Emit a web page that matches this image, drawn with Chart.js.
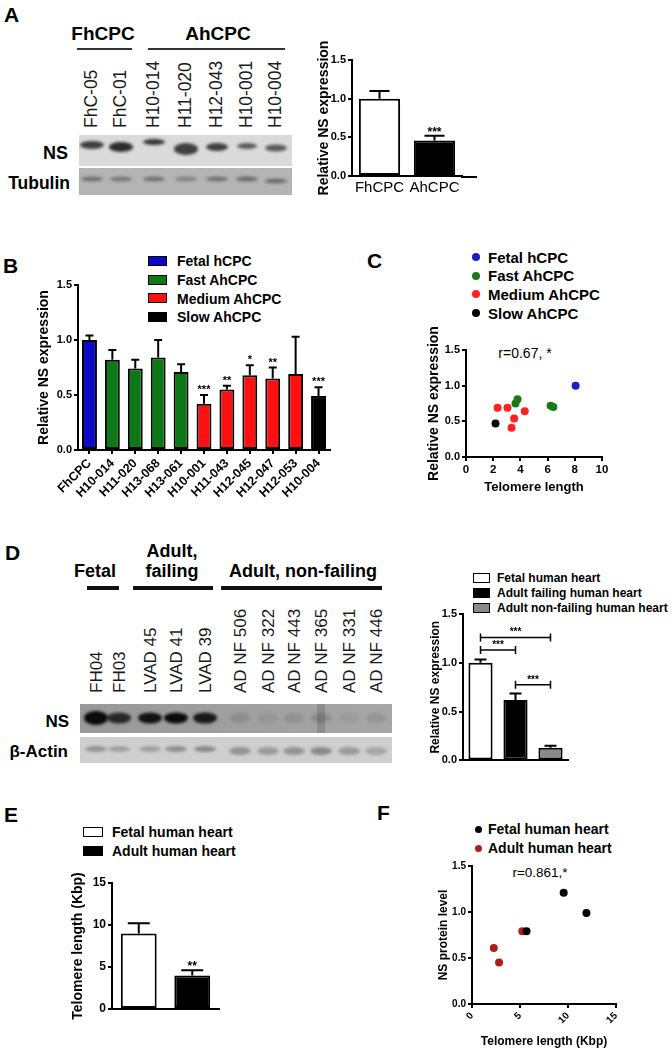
<!DOCTYPE html>
<html><head><meta charset="utf-8">
<script src="https://cdn.jsdelivr.net/npm/chart.js@4.4.1/dist/chart.umd.min.js"></script>
<style>
html,body{margin:0;padding:0;background:#fff;}
body{width:672px;height:1050px;position:relative;overflow:hidden;font-family:"Liberation Sans",Arial,Helvetica,sans-serif;color:#000;}
.t{position:absolute;white-space:nowrap;}
</style></head><body>
<script>
// ================= DATA =================
// Panel A
const A_lanes=['FhC-05','FhC-01','H10-014','H11-020','H12-043','H10-001','H10-004'];
const A_nsBand=[0.85,0.95,0.9,0.85,0.85,0.7,0.7];
const A_tubBand=[0.55,0.5,0.55,0.4,0.55,0.6,0.6];
const A_groups=['FhCPC','AhCPC'];
const A_values=[1.00,0.46];
const A_errors=[0.10,0.06];
const A_sig=['','***'];
// Panel B
const B_lines=['FhCPC','H10-014','H11-020','H13-068','H13-061','H10-001','H11-043','H12-045','H12-047','H12-053','H10-004'];
const B_values=[1.00,0.82,0.74,0.84,0.71,0.42,0.55,0.68,0.65,0.69,0.49];
const B_errors=[0.04,0.09,0.08,0.16,0.07,0.08,0.035,0.09,0.10,0.34,0.08];
const B_rate=[0,1,1,1,1,2,2,2,2,2,3];
const B_sig=['','','','','','***','**','*','**','','***'];
const rateGroups=['Fetal hCPC','Fast AhCPC','Medium AhCPC','Slow AhCPC'];
// Panel C
const C_fetal=[{x:8.06,y:1.00}];
const C_fast=[{x:3.79,y:0.81},{x:3.64,y:0.75},{x:6.22,y:0.72},{x:6.42,y:0.70}];
const C_medium=[{x:2.32,y:0.69},{x:3.05,y:0.69},{x:3.54,y:0.54},{x:3.35,y:0.41},{x:4.32,y:0.64}];
const C_slow=[{x:2.17,y:0.47}];
const C_r='r=0.67, *';
// Panel D
const D_lanes=['FH04','FH03','LVAD 45','LVAD 41','LVAD 39','AD NF 506','AD NF 322','AD NF 443','AD NF 365','AD NF 331','AD NF 446'];
const D_nsBand=[1.0,0.8,0.95,1.0,0.9,0.12,0.07,0.1,0.16,0.06,0.1];
const D_actBand=[0.5,0.4,0.4,0.55,0.6,0.5,0.45,0.5,0.6,0.45,0.35];
const D_groups=['Fetal human heart','Adult failing human heart','Adult non-failing human heart'];
const D_values=[1.00,0.62,0.13];
const D_errors=[0.035,0.065,0.02];
const D_pairs=[[0,2,1.26,'***'],[0,1,1.13,'***'],[1,2,0.775,'***']];
// Panel E
const E_groups=['Fetal human heart','Adult human heart'];
const E_values=[9.0,4.0];
const E_errors=[1.2,0.6];
const E_sig=['','**'];
// Panel F
const F_fetal=[{x:5.68,y:0.79},{x:9.55,y:1.21},{x:11.92,y:0.99}];
const F_adult=[{x:5.24,y:0.79},{x:2.27,y:0.61},{x:2.82,y:0.45}];
const F_r='r=0.861,*';

// ================= HELPERS =================
const FONT='"Liberation Sans", Arial, Helvetica, sans-serif';
Chart.defaults.font.family=FONT;
Chart.defaults.color='#000';
Chart.defaults.animation=false;

function makeCanvas(x,y,w,h){const c=document.createElement('canvas');c.width=w;c.height=h;
  c.style.cssText=`position:absolute;left:${x}px;top:${y}px;width:${w}px;height:${h}px`;document.body.appendChild(c);return c;}
function txt(s,x,base,size,opt={}){
  const d=document.createElement('div');d.className='t';d.textContent=s;
  d.style.fontSize=size+'px';d.style.lineHeight=size+'px';d.style.fontWeight=opt.w||'bold';
  d.style.top=(base-0.85*size)+'px';
  if(opt.align==='center'){d.style.left=x+'px';d.style.transform='translateX(-50%)';}
  else if(opt.align==='right'){d.style.right=(672-x)+'px';}
  else d.style.left=x+'px';
  if(opt.color)d.style.color=opt.color;
  document.body.appendChild(d);return d;}
function vtxt(s,cx,bottom,size,opt={}){
  const d=document.createElement('div');d.className='t';d.textContent=s;
  d.style.fontSize=size+'px';d.style.lineHeight=size+'px';d.style.fontWeight=opt.w||'normal';
  d.style.left=(cx-0.49*size)+'px';d.style.top=bottom+'px';
  d.style.transformOrigin='0 0';d.style.transform='rotate(-90deg)';d.style.color=opt.color||'#1a1a1a';
  document.body.appendChild(d);return d;}
function rect(x,y,w,h,bg,border){const d=document.createElement('div');
  d.style.cssText=`position:absolute;left:${x}px;top:${y}px;width:${w}px;height:${h}px;background:${bg};box-sizing:border-box;${border?'border:'+border+';':''}`;
  document.body.appendChild(d);return d;}
function dot(cx,cy,r,col){const d=rect(cx-r,cy-r,2*r,2*r,col);d.style.borderRadius='50%';return d;}
function blot(x,y,w,h,draw){const c=makeCanvas(x,y,w,h);const ctx=c.getContext('2d');draw(ctx,w,h);}
function band(ctx,cx,cy,w,h,col){ctx.fillStyle=col;ctx.beginPath();ctx.ellipse(cx,cy,w/2,h/2,0,0,Math.PI*2);ctx.fill();}

function yAx(o){return{type:'linear',min:o.min,max:o.max,
  ticks:{stepSize:o.step,font:{size:o.tick,weight:'bold'},color:'#000',padding:2,callback:v=>Number(v).toFixed(o.dec)},
  grid:{drawOnChartArea:false,drawTicks:true,tickLength:4,color:'#000',lineWidth:2},
  border:{color:'#000',width:2},
  title:{display:true,text:o.title,font:{size:o.titleSize,weight:'bold'},color:'#000',padding:0},
  afterFit:s=>{s.width=o.width;}};}
function xCat(o){return{type:'category',offset:true,
  grid:{display:!!o.ticks,offset:false,drawOnChartArea:false,drawTicks:!!o.ticks,tickLength:4,color:'#000',lineWidth:2},
  border:{color:'#000',width:2},
  ticks:{display:o.labels!==false,font:{size:o.font||12,weight:o.weight||'bold'},color:'#000',padding:o.pad||2,autoSkip:false,maxRotation:o.rot||0,minRotation:o.rot||0},
  afterFit:s=>{s.height=o.height;}};}
function xLin(o){return{type:'linear',min:o.min,max:o.max,
  ticks:{stepSize:o.step,font:{size:o.tick,weight:'bold'},color:'#000',padding:o.pad||2,maxRotation:o.rot||0,minRotation:o.rot||0,autoSkip:false},
  grid:{drawOnChartArea:false,drawTicks:true,tickLength:4,color:'#000',lineWidth:2},
  border:{color:'#000',width:2},
  title:{display:true,text:o.title,font:{size:o.titleSize,weight:'bold'},color:'#000',padding:0},
  afterFit:s=>{s.height=o.height;}};}
function errPlugin(o){return{id:'eb',afterDatasetsDraw(chart){
  const ctx=chart.ctx,ys=chart.scales.y,meta=chart.getDatasetMeta(0),vals=chart.data.datasets[0].data;
  ctx.save();ctx.strokeStyle='#000';ctx.lineWidth=2;ctx.fillStyle='#000';
  meta.data.forEach((bar,i)=>{const e=o.errors[i];
    const y0=ys.getPixelForValue(vals[i]),y1=ys.getPixelForValue(vals[i]+e);
    ctx.beginPath();ctx.moveTo(bar.x,y0);ctx.lineTo(bar.x,y1);ctx.moveTo(bar.x-o.cap/2,y1);ctx.lineTo(bar.x+o.cap/2,y1);ctx.stroke();
    if(o.stars&&o.stars[i]){ctx.font=`bold ${o.starFont}px ${FONT}`;ctx.textAlign='center';ctx.textBaseline='alphabetic';ctx.fillText(o.stars[i],bar.x,y1-o.starGap);}
  });
  if(o.extendX){const a=chart.chartArea;ctx.beginPath();ctx.moveTo(a.right-1,a.bottom+1);ctx.lineTo(a.right+o.extendX,a.bottom+1);ctx.stroke();}
  if(o.pairs){const meta0=meta.data;ctx.lineWidth=1.5;
    o.pairs.forEach(p=>{const xa=meta0[p[0]].x,xb=meta0[p[1]].x,y=ys.getPixelForValue(p[2]);
      ctx.beginPath();ctx.moveTo(xa,y);ctx.lineTo(xb,y);ctx.moveTo(xa,y-4);ctx.lineTo(xa,y+4);ctx.moveTo(xb,y-4);ctx.lineTo(xb,y+4);ctx.stroke();
      ctx.font=`bold 10px ${FONT}`;ctx.textAlign='center';ctx.fillText(p[3],(xa+xb)/2,y-2);});}
  ctx.restore();}};}
const baseOpts=(pad)=>({responsive:false,devicePixelRatio:1,animation:false,layout:{padding:pad},
  plugins:{legend:{display:false},tooltip:{enabled:false}}});

// ================= PANEL A =================
txt('A',4,22,21);
txt('FhCPC',103,40,19,{align:'center'});
txt('AhCPC',218,40,19,{align:'center'});
rect(77,48,55,1.5,'#333');rect(148,48,137,1.5,'#333');
const A_laneX=[92,121,154,186,217,247,276];
A_lanes.forEach((l,i)=>vtxt(l,A_laneX[i],128,17.5));
blot(79,135,213,31,(ctx,w,h)=>{ctx.fillStyle='#dadada';ctx.fillRect(0,0,w,h);
  const by=[10,12,7,14,12,11,13],bw=[24,24,22,24,22,20,22],bh=[8,10,6,12,8,6,7];
  ctx.filter='blur(1.5px)';
  A_nsBand.forEach((a,i)=>band(ctx,A_laneX[i]-79,by[i],bw[i],bh[i],`rgba(35,35,35,${a})`));});
blot(79,168,213,27,(ctx,w,h)=>{ctx.fillStyle='#b4b4b4';ctx.fillRect(0,0,w,h);
  ctx.filter='blur(1.5px)';
  A_tubBand.forEach((a,i)=>band(ctx,A_laneX[i]-79,i===6?13:11,22,5,`rgba(60,60,60,${a})`));});
txt('NS',68,159,18,{align:'right'});
txt('Tubulin',70,190,17.5,{align:'right'});

new Chart(makeCanvas(316,28,174,173),{type:'bar',
  data:{labels:A_groups,datasets:[{data:A_values,backgroundColor:['#fff','#000'],borderColor:'#000',borderWidth:2,borderSkipped:false,barPercentage:0.75,categoryPercentage:1}]},
  options:Object.assign(baseOpts({top:32,right:28,left:0,bottom:0}),{scales:{
    x:xCat({font:15,weight:'normal',height:25,pad:3}),
    y:yAx({min:0,max:1.5,step:0.5,dec:1,tick:11,title:'Relative NS expression',titleSize:14,width:36})}}),
  plugins:[errPlugin({errors:A_errors,cap:20,stars:A_sig,starFont:12,starGap:0,extendX:15})]});

// ================= PANEL B =================
txt('B',3,273,21);
const rateColors=['#0a0ac8','#0b7a16','#ff1010','#000000'];
rateGroups.forEach((g,i)=>{const cy=261+i*18.7;rect(148,cy-5,19,10,rateColors[i],'1.5px solid #000');txt(g,177,cy+5,14);});
new Chart(makeCanvas(36,270,309,245),{type:'bar',
  data:{labels:B_lines,datasets:[{data:B_values,backgroundColor:B_rate.map(r=>rateColors[r]),borderColor:'#000',borderWidth:2,borderSkipped:false,barPercentage:0.65,categoryPercentage:1}]},
  options:Object.assign(baseOpts({top:15,right:15,left:0,bottom:0}),{scales:{
    x:xCat({ticks:true,font:12.5,rot:45,height:65,pad:2}),
    y:yAx({min:0,max:1.5,step:0.5,dec:1,tick:11,title:'Relative NS expression',titleSize:14,width:42})}}),
  plugins:[errPlugin({errors:B_errors,cap:8,stars:B_sig,starFont:11,starGap:2})]});

// ================= PANEL C =================
txt('C',367,268,21);
const dotColors=['#1c1cc8','#1a7a1a','#ff2020','#000000'];
rateGroups.forEach((g,i)=>{const cy=257+i*18.7;dot(476,cy,4,dotColors[i]);txt(g,488,cy+5.4,15);});
txt(C_r,525,358,14,{align:'center',w:'normal'});
new Chart(makeCanvas(426,318,192,177),{type:'scatter',
  data:{datasets:[C_fetal,C_fast,C_medium,C_slow].map((d,i)=>({data:d,pointRadius:4,pointBackgroundColor:dotColors[i],pointBorderWidth:0,showLine:false}))},
  options:Object.assign(baseOpts({top:32,right:16,left:0,bottom:0}),{scales:{
    x:xLin({min:0,max:10,step:2,tick:11.5,title:'Telomere length',titleSize:13,height:38,pad:2}),
    y:yAx({min:0,max:1.5,step:0.5,dec:1,tick:11,title:'Relative NS expression',titleSize:14,width:40})}})});

// ================= PANEL D =================
txt('D',5,560,21);
txt('Fetal',95,577,18,{align:'center'});
txt('Adult,',172,557,18,{align:'center'});
txt('failing',172,577,18,{align:'center'});
txt('Adult, non-failing',303,577,18,{align:'center'});
rect(87,586,32,4,'#111');rect(133,586,80,4,'#111');rect(221,586,161,4,'#111');
const D_laneX=[96,119,150,176,205,240,268,294,321,349,376];
D_lanes.forEach((l,i)=>vtxt(l,D_laneX[i],693,17));
blot(80,704,312,29,(ctx,w,h)=>{const g=ctx.createLinearGradient(0,0,w,0);g.addColorStop(0,'#999');g.addColorStop(1,'#a6a6a6');
  ctx.fillStyle=g;ctx.fillRect(0,0,w,h);
  ctx.fillStyle='rgba(70,70,70,0.25)';ctx.fillRect(D_laneX[8]-80-4,0,8,h);
  ctx.filter='blur(1.5px)';
  D_nsBand.forEach((a,i)=>{const strong=i<5;band(ctx,D_laneX[i]-80,14,strong?24:20,strong?(i===0?14:11):10,`rgba(10,10,10,${a})`);});});
blot(80,737,312,26,(ctx,w,h)=>{ctx.fillStyle='#cfcfcf';ctx.fillRect(0,0,w,h);
  ctx.filter='blur(1.5px)';
  D_actBand.forEach((a,i)=>{const nf=i>=5;band(ctx,D_laneX[i]-80,nf?14:12,22,nf?8:6,`rgba(90,90,90,${a})`);});});
txt('NS',69,727,17,{align:'right'});
txt('β-Actin',68,757,17,{align:'right'});

const D_colors=['#ffffff','#000000','#8a8a8a'];
D_groups.forEach((g,i)=>{const cy=578+i*15;rect(473,cy-5,17,10,D_colors[i],'1.5px solid #000');txt(g,497,cy+4.3,12);});
new Chart(makeCanvas(428,600,162,169),{type:'bar',
  data:{labels:D_groups,datasets:[{data:D_values,backgroundColor:D_colors,borderColor:'#000',borderWidth:2,borderSkipped:false,barPercentage:0.69,categoryPercentage:1}]},
  options:Object.assign(baseOpts({top:14,right:22,left:0,bottom:0}),{scales:{
    x:xCat({labels:false,height:6}),
    y:yAx({min:0,max:1.5,step:0.5,dec:1,tick:11,title:'Relative NS expression',titleSize:12,width:35})}}),
  plugins:[errPlugin({errors:D_errors,cap:12,pairs:D_pairs})]});

// ================= PANEL E =================
txt('E',4,822,21);
const E_colors=['#ffffff','#000000'];
E_groups.forEach((g,i)=>{const cy=832+i*19;rect(83,cy-5,20,10,E_colors[i],'1.5px solid #000');txt(g,112,cy+5,14);});
new Chart(makeCanvas(70,862,165,167),{type:'bar',
  data:{labels:E_groups,datasets:[{data:E_values,backgroundColor:E_colors,borderColor:'#000',borderWidth:2,borderSkipped:false,barPercentage:0.67,categoryPercentage:1}]},
  options:Object.assign(baseOpts({top:21,right:16,left:0,bottom:0}),{scales:{
    x:xCat({labels:false,height:20}),
    y:yAx({min:0,max:15,step:5,dec:0,tick:12,title:'Telomere length (Kbp)',titleSize:14,width:42})}}),
  plugins:[errPlugin({errors:E_errors,cap:22,stars:E_sig,starFont:12,starGap:0})]});

// ================= PANEL F =================
txt('F',377,820,21);
const F_colors=['#000000','#b01c1c'];
['Fetal human heart','Adult human heart'].forEach((g,i)=>{const cy=829+i*19;dot(478,cy,3.5,F_colors[i]);txt(g,488,cy+5,14);});
txt(F_r,540,877,13.5,{align:'center',w:'normal'});
new Chart(makeCanvas(436,852,204,197),{type:'scatter',
  data:{datasets:[F_fetal,F_adult].map((d,i)=>({data:d,pointRadius:4,pointBackgroundColor:F_colors[i],pointBorderWidth:0,showLine:false}))},
  options:Object.assign(baseOpts({top:14,right:24,left:0,bottom:0}),{scales:{
    x:xLin({min:0,max:15,step:5,tick:10,rot:45,title:'Telomere length (Kbp)',titleSize:12,height:45,pad:2}),
    y:yAx({min:0,max:1.5,step:0.5,dec:1,tick:10,title:'NS protein level',titleSize:12,width:36})}})});
</script>
</body></html>
